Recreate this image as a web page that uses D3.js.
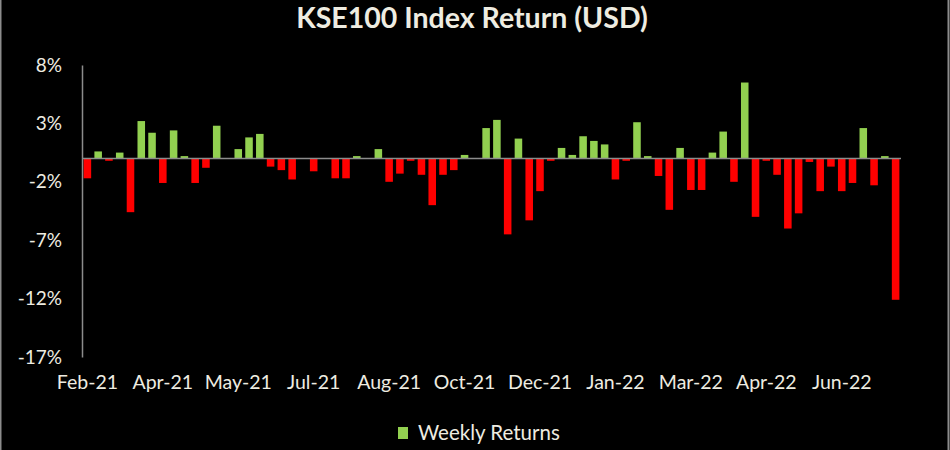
<!DOCTYPE html>
<html>
<head>
<meta charset="utf-8">
<script src="https://cdn.jsdelivr.net/npm/d3@7"></script>
<style>
  body { margin: 0; background: #000; }
  svg { display: block; }
  text { font-family: Lato, "Open Sans", sans-serif; fill: #EEECE1; }
</style>
</head>
<body>
<div id="chart"></div>
<script>
// weekly returns in %, one bar per week (Feb-21 .. Jul-22)
var weeklyReturns = [
  -1.7, 0.6, -0.2, 0.5, -4.6, 3.2, 2.2, -2.1, 2.4, 0.2,
  -2.1, -0.8, 2.8, 0.0, 0.8, 1.8, 2.1, -0.7, -1.0, -1.8,
  0.0, -1.1, 0.0, -1.7, -1.7, 0.2, 0.0, 0.8, -2.0, -1.3,
  -0.2, -1.4, -4.0, -1.4, -1.0, 0.3, 0.0, 2.6, 3.3, -6.5,
  1.7, -5.3, -2.8, -0.2, 0.9, 0.3, 1.9, 1.5, 1.2, -1.8,
  -0.2, 3.1, 0.2, -1.5, -4.4, 0.9, -2.7, -2.7, 0.5, 2.3,
  -2.0, 6.5, -5.0, -0.2, -1.4, -6.0, -4.7, -0.3, -2.8, -0.7,
  -2.8, -2.1, 2.6, -2.3, 0.2, -12.1
];

// category labels shown every 7th week
var tickLabels = ["Feb-21", "Apr-21", "May-21", "Jul-21", "Aug-21", "Oct-21",
                  "Dec-21", "Jan-22", "Mar-22", "Apr-22", "Jun-22"];
var tickEvery = 7;

var yTicks = [8, 3, -2, -7, -12, -17];

var width = 950, height = 450;
var plot = { left: 82, right: 901, top: 65, bottom: 357 };

var svg = d3.select("#chart").append("svg")
  .attr("width", width)
  .attr("height", height);

svg.append("rect")
  .attr("width", width).attr("height", height)
  .attr("fill", "#000");

// chart border (only the sides show in the original)
svg.append("line").attr("x1", 0.5).attr("x2", 0.5).attr("y1", 0).attr("y2", height)
  .attr("stroke", "#8c8c8c").attr("stroke-width", 2);
svg.append("line").attr("x1", 948.5).attr("x2", 948.5).attr("y1", 0).attr("y2", height)
  .attr("stroke", "#8c8c8c").attr("stroke-width", 2);

var x = d3.scaleBand()
  .domain(d3.range(weeklyReturns.length))
  .range([plot.left, plot.right])
  .paddingInner(0.3)
  .paddingOuter(0.15);

var y = d3.scaleLinear()
  .domain([-17, 8])
  .range([plot.bottom, plot.top]);

// Title
svg.append("text")
  .attr("x", 472)
  .attr("y", 28)
  .attr("text-anchor", "middle")
  .style("font-size", "28.5px")
  .style("font-weight", "bold")
  .text("KSE100 Index Return (USD)");

// Bars
svg.append("g").selectAll("rect")
  .data(weeklyReturns)
  .enter().append("rect")
  .attr("x", function(d, i) { return x(i); })
  .attr("width", x.bandwidth())
  .attr("y", function(d) { return y(Math.max(0, d)); })
  .attr("height", function(d) { return Math.abs(y(d) - y(0)); })
  .attr("fill", function(d) { return d >= 0 ? "#92D050" : "#FF0000"; });

// Y axis
var yAxis = d3.axisLeft(y)
  .tickValues(yTicks)
  .tickSize(0)
  .tickPadding(20)
  .tickFormat(function(d) { return d + "%"; });

var gy = svg.append("g")
  .attr("transform", "translate(" + plot.left + ",0)")
  .call(yAxis);
gy.select(".domain").attr("stroke", "#8c8c8c").attr("stroke-width", 1.5);
gy.selectAll("text")
  .attr("fill", "#EEECE1")
  .style("font-size", "19px")
  .style("font-family", "Lato, sans-serif");

// zero line
svg.append("line")
  .attr("x1", plot.left).attr("x2", plot.right)
  .attr("y1", y(0)).attr("y2", y(0))
  .attr("stroke", "#8c8c8c").attr("stroke-width", 1.5);

// X labels sit at the bottom, not at the zero line
var xAxis = d3.axisBottom(x)
  .tickValues(d3.range(0, weeklyReturns.length, tickEvery))
  .tickSize(0)
  .tickPadding(0)
  .tickFormat(function(d) { return tickLabels[d / tickEvery]; });

var gx = svg.append("g")
  .attr("transform", "translate(0," + 375 + ")")
  .call(xAxis);
gx.select(".domain").remove();
gx.selectAll("text")
  .attr("fill", "#EEECE1")
  .style("font-size", "19.5px")
  .style("font-family", "Lato, sans-serif");

// Legend
var legend = svg.append("g").attr("transform", "translate(398,427)");
legend.append("rect")
  .attr("width", 10).attr("height", 12)
  .attr("fill", "#92D050");
legend.append("text")
  .attr("x", 20)
  .attr("y", 13)
  .style("font-size", "20.5px")
  .text("Weekly Returns");
</script>
</body>
</html>
